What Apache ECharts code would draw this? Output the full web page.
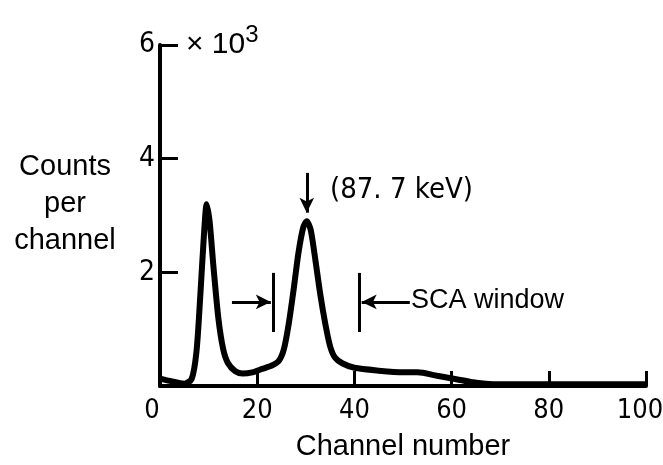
<!DOCTYPE html>
<html>
<head>
<meta charset="utf-8">
<script src="https://cdn.jsdelivr.net/npm/echarts@6/dist/echarts.min.js"></script>
<style>
  html, body { margin: 0; padding: 0; background: #fff; }
  #main { width: 663px; height: 465px; }
</style>
</head>
<body>
<div id="main"></div>
<script>
var myChart = echarts.init(document.getElementById('main'));

// spectrum (counts in thousands)
var channels = [0, 2, 5, 6.5, 7.5, 8.3, 9, 9.6, 10.2, 11, 12, 13, 14, 15.5, 17, 19, 21, 23, 24.5, 25.5,
    26.5, 27.5, 28.5, 29.5, 30.2, 31, 32, 33, 34, 35, 36, 37.5, 40, 45, 50, 53, 57, 61, 64, 67, 70, 80, 90, 100];
var counts = [0.13, 0.09, 0.04, 0.12, 0.6, 1.6, 2.6, 3.2, 2.9, 2.1, 1.2, 0.65, 0.4, 0.26, 0.22, 0.24, 0.3, 0.36, 0.45, 0.65,
    1.1, 1.7, 2.35, 2.8, 2.9, 2.75, 2.2, 1.6, 1.1, 0.7, 0.5, 0.4, 0.32, 0.27, 0.24, 0.24, 0.18, 0.12, 0.07, 0.04, 0.03, 0.03, 0.03, 0.03];

var xTicks = [0, 20, 40, 60, 80, 100];
var yTicks = [0, 2, 4, 6];

// annotation positions (data units)
var scaWindow = [23.2, 41.1];     // channel of the two window bars
var scaBar = [0.95, 1.99];        // bar bottom / top
var scaArrowY = 1.48;
var scaArrowFrom = [14.8, 51.4];  // where the arrows start
var peakArrow = [30.2, 3.75, 3.05]; // x, from y, to y

var font = "'Liberation Sans', Arial, sans-serif";
var narrow = "'DejaVu Sans Condensed', 'Liberation Sans', sans-serif";

var data = channels.map(function (c, i) { return [c, counts[i]]; });

var marks = [
    [{ coord: [scaWindow[0], scaBar[0]], symbol: 'none' }, { coord: [scaWindow[0], scaBar[1]], symbol: 'none' }],
    [{ coord: [scaWindow[1], scaBar[0]], symbol: 'none' }, { coord: [scaWindow[1], scaBar[1]], symbol: 'none' }],
    [{ coord: [scaArrowFrom[0], scaArrowY], symbol: 'none' }, { coord: [scaWindow[0] - 0.4, scaArrowY], symbol: 'arrow' }],
    [{ coord: [scaArrowFrom[1], scaArrowY], symbol: 'none' }, { coord: [scaWindow[1] + 0.4, scaArrowY], symbol: 'arrow' }],
    [{ coord: [peakArrow[0], peakArrow[1]], symbol: 'none' }, { coord: [peakArrow[0], peakArrow[2]], symbol: 'arrow' }]
];

var option = {
    backgroundColor: '#fff',
    animation: false,
    grid: { left: 160, right: 17, top: 45, bottom: 79, outerBoundsMode: 'none', containLabel: false },
    xAxis: {
        type: 'value',
        min: 0, max: 100, interval: 20,
        name: 'Channel number',
        nameLocation: 'middle',
        nameGap: 46,
        nameTextStyle: { fontFamily: font, fontSize: 29, color: '#000' },
        axisLine: { show: true, lineStyle: { color: '#000', width: 4 } },
        axisTick: { inside: true, length: 15, lineStyle: { color: '#000', width: 3 } },
        axisLabel: {
            margin: 11, fontFamily: narrow, fontSize: 27, color: '#000',
            customValues: xTicks,
            formatter: function (v) {
                if (v === 0) return '{l|0}';
                if (v === 100) return '{r|100}';
                return v;
            },
            rich: {
                l: { fontFamily: narrow, fontSize: 27, color: '#000', padding: [0, 16, 0, 0] },
                r: { fontFamily: narrow, fontSize: 27, color: '#000', padding: [0, 12, 0, 0] }
            }
        },
        splitLine: { show: false }
    },
    yAxis: {
        type: 'value',
        min: 0, max: 6, interval: 2,
        axisLine: { show: true, lineStyle: { color: '#000', width: 4 } },
        axisTick: { inside: true, length: 18, lineStyle: { color: '#000', width: 3 } },
        axisLabel: { margin: 5, fontFamily: narrow, fontSize: 28, color: '#000',
            showMinLabel: false },
        splitLine: { show: false }
    },
    series: [{
        type: 'line',
        data: data,
        smooth: 0.25,
        showSymbol: false,
        lineStyle: { color: '#000', width: 6 },
        markLine: {
            silent: true,
            symbolSize: [11, 15],
            label: { show: false },
            lineStyle: { color: '#000', width: 3, type: 'solid' },
            data: marks
        }
    }],
    graphic: [
        { type: 'text', x: 65, y: 148, style: { text: 'Counts\nper\nchannel', fontFamily: font, fontSize: 29,
            lineHeight: 37, fill: '#000', align: 'center' } },
        { type: 'text', x: 186, y: 45, style: { text: '× 10{s|3}', fontFamily: font, fontSize: 30, fill: '#000',
            verticalAlign: 'middle', rich: { s: { fontFamily: font, fontSize: 24, verticalAlign: 'top', padding: [0, 0, 20, 0] } } } },
        { type: 'text', x: 330, y: 190, style: { text: '(87. 7 keV)', fontFamily: narrow, fontSize: 29, fill: '#000',
            verticalAlign: 'middle' } },
        { type: 'text', x: 411, y: 301, style: { text: 'SCA window', fontFamily: font, fontSize: 27, fill: '#000',
            verticalAlign: 'middle' } }
    ]
};
myChart.setOption(option);
</script>
</body>
</html>
